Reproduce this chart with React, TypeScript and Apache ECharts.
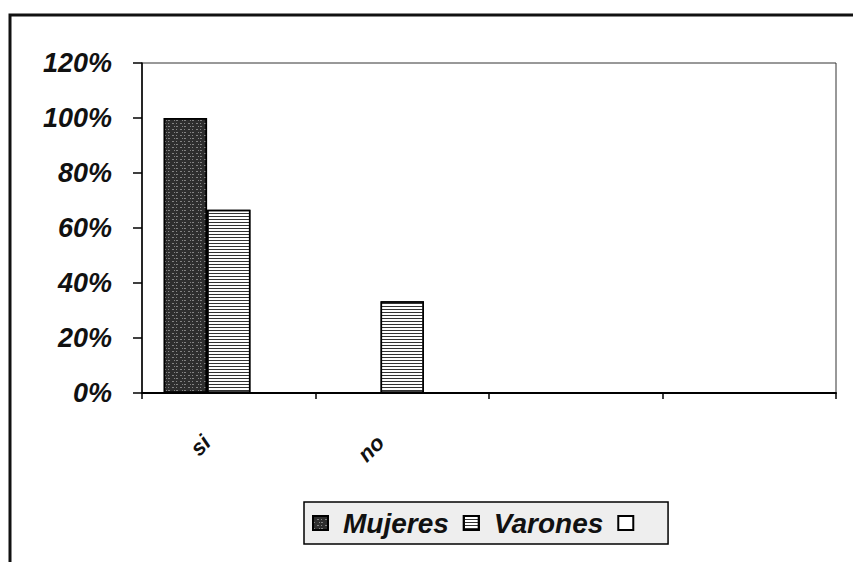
import React, { useEffect, useRef } from "react";
import * as echarts from "echarts";

const categories = ["si", "no", "", ""];
const mujeres = [100, 0, null, null];
const varones = [66.67, 33.33, null, null];
const tercera = [null, null, null, null];
const yTicks = { min: 0, max: 120, interval: 20 };

const FONT = "'Liberation Sans', Arial, sans-serif";

export default function App() {
  const ref = useRef<HTMLDivElement>(null);
  useEffect(() => {
    const chart = echarts.init(ref.current!, null, { renderer: "svg" });
    const bold = { fontFamily: FONT, fontWeight: "bold" as const, fontStyle: "italic" as const, color: "#111" };
    chart.setOption({
      animation: false,
      backgroundColor: "#fff",
      grid: {
        left: 142,
        right: 17,
        top: 63,
        bottom: 169,
        show: true,
        borderColor: "#333",
        borderWidth: 1,
      },
      legend: {
        left: 304,
        top: 502,
        itemWidth: 15,
        itemHeight: 14,
        itemGap: 14,
        padding: [7, 12, 7, 8],
        backgroundColor: "#eeeeee",
        borderColor: "#000",
        borderWidth: 1.5,
        borderRadius: 0,
        icon: "rect",
        textStyle: { ...bold, fontSize: 28, padding: [0, 0, 0, 10] },
        data: ["Mujeres", "Varones", " "],
      },
      xAxis: {
        type: "category",
        data: categories,
        axisLine: { lineStyle: { color: "#000", width: 2 } },
        axisTick: { show: true, alignWithLabel: false, length: 6, lineStyle: { color: "#000", width: 1.5 } },
        axisLabel: { ...bold, fontSize: 22, rotate: 45, margin: 24, padding: [0, 31, 0, 0] },
      },
      yAxis: {
        type: "value",
        ...yTicks,
        splitLine: { show: false },
        axisLine: { show: true, lineStyle: { color: "#000", width: 1.5 } },
        axisTick: { show: true, inside: false, length: 9, lineStyle: { color: "#000", width: 1.5 } },
        axisLabel: { ...bold, fontSize: 27, margin: 30, formatter: "{value}%" },
      },
      series: [
        {
          name: "Mujeres",
          type: "bar",
          data: mujeres,
          barGap: "0%",
          barCategoryGap: "25%",
          itemStyle: {
            color: "#2e2e2e",
            borderColor: "#000",
            borderWidth: 1.5,
            decal: {
              symbol: "rect",
              symbolSize: 1,
              dashArrayX: [[1, 3, 2, 2], [2, 4, 1, 1]],
              dashArrayY: [1, 2],
              color: "rgba(200,200,200,0.55)",
              rotation: 0,
            },
          },
        },
        {
          name: "Varones",
          type: "bar",
          data: varones,
          itemStyle: {
            color: "#ffffff",
            borderColor: "#000",
            borderWidth: 1.5,
            decal: {
              symbol: "rect",
              symbolSize: 1,
              dashArrayX: [[1, 0]],
              dashArrayY: [1, 2],
              color: "#333",
              rotation: 0,
            },
          },
        },
        {
          name: " ",
          type: "bar",
          data: tercera,
          itemStyle: { color: "#ffffff", borderColor: "#000", borderWidth: 1.5 },
        },
      ],
      graphic: [
        {
          type: "rect",
          shape: { x: 10, y: 15, width: 900, height: 700 },
          style: { fill: "none", stroke: "#111", lineWidth: 3 },
          silent: true,
        },
      ],
    });
    return () => chart.dispose();
  }, []);
  return (
    <div
      ref={ref}
      style={{ position: "absolute", left: 0, top: 0, width: 853, height: 562 }}
    />
  );
}
